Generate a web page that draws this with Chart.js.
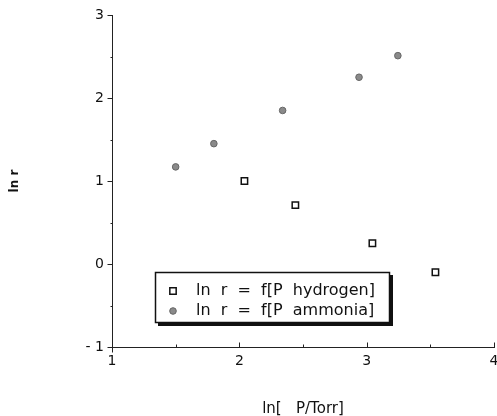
<!DOCTYPE html>
<html>
<head>
<meta charset="utf-8">
<script src="https://cdn.jsdelivr.net/npm/chart.js@4/dist/chart.umd.min.js"></script>
<style>
html,body{margin:0;padding:0;background:#fff;}
canvas{display:block;}
</style>
</head>
<body>
<canvas id="c" width="497" height="416"></canvas>
<script>
const seriesLabels = ['ln  r  =  f[P  hydrogen]', 'ln  r  =  f[P  ammonia]'];
const hydrogenX = [2.04, 2.44, 3.045, 3.54];
const hydrogenY = [1.00, 0.71, 0.25, -0.10];
const ammoniaX = [1.5, 1.8, 2.34, 2.94, 3.245];
const ammoniaY = [1.17, 1.45, 1.85, 2.25, 2.51];
const xTitle = 'ln[   P/Torr]';
const yTitle = 'ln r';

const FONT = '"DejaVu Sans", sans-serif';

function pts(xs, ys){ return xs.map((x,i)=>({x:x, y:ys[i]})); }

const axisTicks = {
  id:'axisTicks',
  afterDraw(chart){
    const ctx = chart.ctx;
    const xs = chart.scales.x, ys = chart.scales.y;
    ctx.save();
    ctx.strokeStyle = '#222';
    ctx.lineWidth = 1;
    const x0 = Math.round(xs.left)+0.5;
    const y0 = Math.round(ys.bottom)+0.5;
    ys.ticks.forEach(t=>{
      const p = Math.round(ys.getPixelForValue(t.value))+0.5;
      const major = Number.isInteger(t.value);
      ctx.beginPath();
      ctx.moveTo(x0 - (major?5:2), p);
      ctx.lineTo(x0, p);
      ctx.stroke();
    });
    xs.ticks.forEach(t=>{
      const p = Math.round(xs.getPixelForValue(t.value))+0.5;
      const major = Number.isInteger(t.value);
      ctx.beginPath();
      if (t.value === xs.min){
        ctx.moveTo(p, y0); ctx.lineTo(p, y0+5);
      } else {
        ctx.moveTo(p, y0); ctx.lineTo(p, y0-(major?5:3));
      }
      ctx.stroke();
    });
    ctx.restore();
  }
};

const boxLegend = {
  id:'boxLegend',
  afterDraw(chart){
    const ctx = chart.ctx;
    const L = 155, T = 272, W = 235, H = 51;
    ctx.save();
    ctx.fillStyle = '#111';
    ctx.fillRect(L+3, T+3, W, H);
    ctx.fillStyle = '#fff';
    ctx.fillRect(L, T, W, H);
    ctx.strokeStyle = '#111';
    ctx.lineWidth = 1.5;
    ctx.strokeRect(L+0.5, T+0.5, W-1, H-1);
    chart.data.datasets.forEach((ds,i)=>{
      const cy = T + 19 + i*20;
      ctx.fillStyle = ds.backgroundColor;
      ctx.strokeStyle = ds.borderColor;
      ctx.lineWidth = ds.borderWidth;
      ctx.beginPath();
      if (ds.pointStyle === 'rect'){
        const s = ds.pointRadius*Math.SQRT1_2;
        ctx.rect(L+18-s, cy-s, 2*s, 2*s);
      } else {
        ctx.arc(L+18, cy, ds.pointRadius, 0, Math.PI*2);
      }
      ctx.fill(); ctx.stroke();
      ctx.fillStyle = '#111';
      ctx.font = '16px ' + FONT;
      ctx.textBaseline = 'middle';
      ctx.textAlign = 'left';
      ctx.fillText(ds.label, L+41, cy);
    });
    ctx.restore();
  }
};

new Chart(document.getElementById('c'), {
  type:'scatter',
  data:{
    datasets:[
      {label: seriesLabels[0], data: pts(hydrogenX, hydrogenY), pointStyle:'rect', pointRadius:4.5,
       backgroundColor:'#ffffff', borderColor:'#111111', borderWidth:1.5},
      {label: seriesLabels[1], data: pts(ammoniaX, ammoniaY), pointStyle:'circle', pointRadius:3.3,
       backgroundColor:'#8a8a8a', borderColor:'#666666', borderWidth:1}
    ]
  },
  options:{
    responsive:false,
    devicePixelRatio:1,
    animation:false,
    layout:{autoPadding:false, padding:{top:15, right:3, left:0, bottom:0}},
    plugins:{legend:{display:false}, tooltip:{enabled:false}},
    scales:{
      x:{
        type:'linear', min:1, max:4,
        ticks:{stepSize:0.5, autoSkip:false, maxRotation:0, padding:6, color:'#111',
          font:{family:FONT, size:14},
          callback:(v)=> Number.isInteger(v) ? String(v) : ''},
        grid:{display:true, drawOnChartArea:false, drawTicks:false},
        border:{display:true, color:'#222', width:1},
        title:{display:true, text:xTitle, color:'#111', font:{family:FONT, size:15}, padding:{top:0,bottom:-2}},
        afterFit(s){ s.height = 69; s.paddingLeft = 0; s.paddingRight = 0; }
      },
      y:{
        type:'linear', min:-1, max:3,
        ticks:{stepSize:0.5, autoSkip:false, padding:8, color:'#111',
          font:{family:FONT, size:14},
          callback:(v)=> Number.isInteger(v) ? (v<0 ? '- '+Math.abs(v) : String(v)) : ''},
        grid:{display:true, drawOnChartArea:false, drawTicks:false},
        border:{display:true, color:'#222', width:1},
        title:{display:true, text:yTitle, color:'#111', font:{family:FONT, size:12, weight:'bold'}, padding:{top:8,bottom:0}},
        afterFit(s){ s.width = 112; s.paddingTop = 0; s.paddingBottom = 0; }
      }
    }
  },
  plugins:[axisTicks, boxLegend]
});
</script>
</body>
</html>
